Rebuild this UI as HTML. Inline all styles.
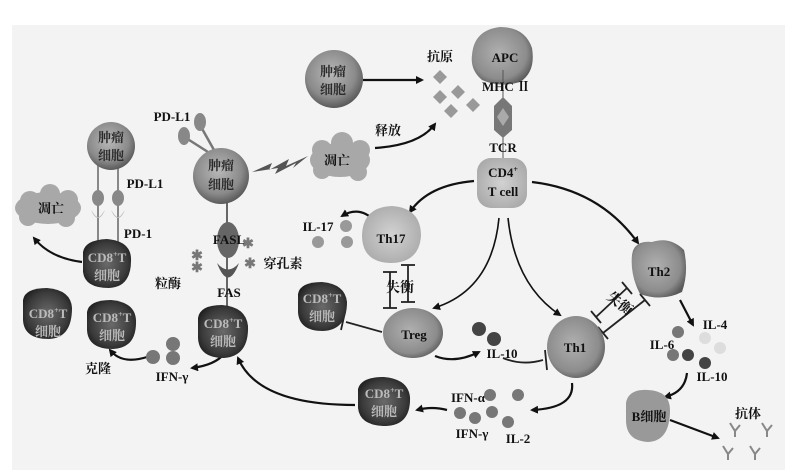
<!DOCTYPE html>
<html><head><meta charset="utf-8"><style>
html,body{margin:0;padding:0;background:#fff}
svg{display:block}
text{font-family:"Liberation Serif","Noto Serif CJK SC",serif;font-weight:bold;text-anchor:middle;fill:#111;font-size:13px}
.c{fill:#bbb}
.d{fill:#2a2a2a}
</style></head><body>
<svg width="800" height="473" viewBox="0 0 800 473" xmlns="http://www.w3.org/2000/svg">
<defs>
<radialGradient id="tum" cx="45%" cy="40%" r="60%"><stop offset="0" stop-color="#b8b8b8"/><stop offset="0.7" stop-color="#8a8a8a"/><stop offset="1" stop-color="#5a5a5a"/></radialGradient>
<radialGradient id="cd8" cx="50%" cy="50%" r="60%"><stop offset="0" stop-color="#6a6a6a"/><stop offset="0.7" stop-color="#3a3a3a"/><stop offset="1" stop-color="#1a1a1a"/></radialGradient>
<radialGradient id="lt" cx="50%" cy="50%" r="60%"><stop offset="0" stop-color="#d2d2d2"/><stop offset="1" stop-color="#a8a8a8"/></radialGradient>
<radialGradient id="th" cx="45%" cy="45%" r="60%"><stop offset="0" stop-color="#b0b0b0"/><stop offset="0.75" stop-color="#8c8c8c"/><stop offset="1" stop-color="#5a5a5a"/></radialGradient>
<marker id="a" markerWidth="8" markerHeight="8" refX="6" refY="4" orient="auto" markerUnits="userSpaceOnUse"><path d="M0,0 L8,4 L0,8 Z" fill="#111"/></marker>
</defs>
<rect x="0" y="0" width="800" height="473" fill="#fff"/>
<rect x="12" y="25" width="773" height="445" fill="#f3f3f3"/>

<g stroke="#111" stroke-width="2.2" fill="none" marker-end="url(#a)">
<path d="M363,80 L422,80"/>
<path d="M375,148 Q420,145 435,124"/>
<path d="M474,181 Q428,185 410,212"/>
<path d="M532,182 Q600,190 638,243"/>
<path d="M82,262 Q50,258 34,238"/>
<path d="M376,222 Q360,205 342,216"/>
<path d="M224,354 Q215,365 192,368"/>
<path d="M147,357 Q122,365 110,350"/>
<path d="M355,405 Q258,405 238,358"/>
<path d="M435,356 Q455,364 479,352"/>
<path d="M572,383 Q575,408 532,410"/>
<path d="M447,410 Q432,406 417,410"/>
<path d="M680,300 L693,325"/>
<path d="M687,373 Q685,392 665,397"/>
<path d="M670,420 L718,438"/>
</g>
<g stroke="#111" stroke-width="1.6" fill="none" marker-end="url(#a)">
<path d="M499,218 Q492,290 434,308"/>
<path d="M508,218 Q515,285 560,315"/>
</g>
<!-- inhibition lines -->
<g stroke="#222" stroke-width="1.8" fill="none">
<path d="M382,332 L346,322"/><path d="M345,312 L341,330"/>
<path d="M503,358 Q522,366 543,360"/><path d="M545,350 L547,370"/>
<path d="M390,272 L390,308"/><path d="M383,272 L397,272"/><path d="M383,308 L397,308"/>
<path d="M408,265 L408,302"/><path d="M401,265 L415,265"/><path d="M401,302 L415,302"/>
<path d="M596,317 L627,288"/><path d="M591,311 L601,323"/><path d="M622,282 L632,294"/>
<path d="M603,333 L645,300"/><path d="M598,327 L608,339"/><path d="M640,294 L650,306"/>
</g>

<!-- top tumor -->
<circle cx="334" cy="79" r="29" fill="url(#tum)"/>
<text x="333" y="76" class="d">肿瘤</text>
<text x="333" y="94" class="d">细胞</text>
<!-- antigens -->
<text x="440" y="61">抗原</text>
<g fill="#999">
<path d="M440,70 l7,7 l-7,7 l-7,-7z"/><path d="M440,90 l7,7 l-7,7 l-7,-7z"/><path d="M458,85 l7,7 l-7,7 l-7,-7z"/><path d="M473,98 l7,7 l-7,7 l-7,-7z"/><path d="M451,104 l7,7 l-7,7 l-7,-7z"/>
</g>
<!-- APC -->
<path d="M472,55 Q474,30 500,27 Q525,27 532,48 Q536,72 520,82 Q500,88 482,80 Q470,70 472,55z" fill="url(#th)"/>
<text x="505" y="62">APC</text>
<line x1="503" y1="70" x2="503" y2="160" stroke="#555" stroke-width="1"/>
<path d="M503,97 L512,106 L512,130 L503,138 L494,130 L494,106Z" fill="#777"/>
<path d="M503,108 L509,117 L503,126 L497,117Z" fill="#aaa"/>
<text x="506" y="91">MHC Ⅱ</text>
<text x="503" y="152">TCR</text>
<rect x="477" y="158" width="50" height="50" rx="14" fill="url(#lt)"/>
<text x="503" y="177">CD4<tspan font-size="8" dy="-5">+</tspan></text>
<text x="503" y="196">T cell</text>
<text x="388" y="135">释放</text>
<!-- cloud top -->
<g fill="#a8a8a8"><ellipse cx="340" cy="160" rx="30" ry="17"/><circle cx="322" cy="150" r="10"/><circle cx="342" cy="143" r="11"/><circle cx="360" cy="150" r="10"/><circle cx="322" cy="170" r="9"/><circle cx="358" cy="172" r="9"/></g>
<text x="337" y="165">凋亡</text>
<path d="M252,172 L272,163 L269,170 L289,159 L286,166 L308,156 L293,168 L296,163 L275,174 L278,168Z" fill="#555"/>
<!-- middle tumor -->
<line x1="208" y1="152" x2="186" y2="138" stroke="#777" stroke-width="2.5"/>
<line x1="214" y1="150" x2="200" y2="125" stroke="#777" stroke-width="2.5"/>
<ellipse cx="184" cy="136" rx="6" ry="9" fill="#888"/><ellipse cx="200" cy="122" rx="6" ry="9" fill="#888"/>
<text x="172" y="121">PD-L1</text>
<line x1="227" y1="200" x2="227" y2="310" stroke="#666" stroke-width="2"/>
<circle cx="221" cy="176" r="28" fill="url(#tum)"/>
<text x="221" y="170" class="d">肿瘤</text>
<text x="221" y="189" class="d">细胞</text>
<ellipse cx="228" cy="240" rx="11" ry="18" fill="#666"/>
<text x="229" y="244">FASL</text>
<path d="M217,263 Q228,292 239,263 Q228,276 217,263Z" fill="#555"/>
<text x="229" y="297">FAS</text>
<g style="font-size:14px"><text x="248" y="248" style="fill:#777;font-size:14px">✱</text><text x="197" y="260" style="fill:#777;font-size:14px">✱</text><text x="197" y="272" style="fill:#777;font-size:14px">✱</text><text x="250" y="268" style="fill:#777;font-size:14px">✱</text></g>
<text x="283" y="268">穿孔素</text>
<text x="168" y="288">粒酶</text>
<!-- left tumor -->
<line x1="98" y1="160" x2="98" y2="242" stroke="#888" stroke-width="2"/>
<line x1="118" y1="160" x2="118" y2="242" stroke="#888" stroke-width="2"/>
<circle cx="111" cy="146" r="24" fill="url(#tum)"/>
<text x="111" y="142" class="d">肿瘤</text>
<text x="111" y="160" class="d">细胞</text>
<ellipse cx="98" cy="198" rx="6" ry="8" fill="#888"/><ellipse cx="118" cy="198" rx="6" ry="8" fill="#888"/>
<path d="M91,210 Q98,226 105,210 L102,214 Q98,220 94,214Z" fill="#bbb"/>
<path d="M111,210 Q118,226 125,210 L122,214 Q118,220 114,214Z" fill="#bbb"/>
<text x="145" y="188">PD-L1</text>
<text x="138" y="238">PD-1</text>
<g fill="#a8a8a8"><ellipse cx="48" cy="208" rx="33" ry="16"/><circle cx="30" cy="201" r="10"/><circle cx="50" cy="194" r="10"/><circle cx="68" cy="200" r="10"/><circle cx="28" cy="217" r="9"/><circle cx="66" cy="218" r="9"/></g>
<text x="51" y="213">凋亡</text>

<!-- CD8 cells -->
<g fill="url(#cd8)">
<path d="M83,252 Q85,240 107,239 Q130,241 131,258 Q132,287 109,288 Q85,288 83,272Z"/>
<path d="M23,300 Q25,288 47,288 Q71,290 72,308 Q72,338 49,339 Q24,339 23,320Z"/>
<path d="M87,312 Q89,300 111,300 Q135,302 136,320 Q137,348 113,349 Q88,349 87,330Z"/>
<path d="M198,318 Q200,305 222,305 Q246,307 248,326 Q249,356 224,358 Q199,358 198,338Z"/>
<path d="M298,294 Q300,282 322,282 Q345,284 347,302 Q347,330 323,331 Q299,331 298,312Z"/>
<path d="M358,389 Q361,377 384,377 Q408,379 410,397 Q411,425 386,426 Q360,426 358,408Z"/>
</g>
<text x="107" y="262" class="c">CD8<tspan font-size="8" dy="-5">+</tspan><tspan dy="5">T</tspan></text><text x="107" y="280" class="c">细胞</text>
<text x="48" y="318" class="c">CD8<tspan font-size="8" dy="-5">+</tspan><tspan dy="5">T</tspan></text><text x="48" y="336" class="c">细胞</text>
<text x="112" y="322" class="c">CD8<tspan font-size="8" dy="-5">+</tspan><tspan dy="5">T</tspan></text><text x="112" y="340" class="c">细胞</text>
<text x="223" y="328" class="c">CD8<tspan font-size="8" dy="-5">+</tspan><tspan dy="5">T</tspan></text><text x="223" y="346" class="c">细胞</text>
<text x="322" y="303" class="c">CD8<tspan font-size="8" dy="-5">+</tspan><tspan dy="5">T</tspan></text><text x="322" y="321" class="c">细胞</text>
<text x="384" y="398" class="c">CD8<tspan font-size="8" dy="-5">+</tspan><tspan dy="5">T</tspan></text><text x="384" y="416" class="c">细胞</text>
<text x="98" y="373">克隆</text>
<text x="172" y="381">IFN-γ</text>
<circle cx="153" cy="357" r="7" fill="#777"/><circle cx="173" cy="344" r="7" fill="#777"/><circle cx="173" cy="358" r="7" fill="#777"/>

<!-- Th17 -->
<path d="M362,235 Q363,207 392,206 Q421,208 421,236 Q419,263 390,263 Q362,262 362,235z" fill="url(#lt)"/>
<text x="391" y="243">Th17</text>
<text x="318" y="231">IL-17</text>
<circle cx="346" cy="226" r="6" fill="#999"/><circle cx="318" cy="242" r="6" fill="#999"/><circle cx="347" cy="242" r="6" fill="#999"/>
<text x="400" y="292" style="font-size:14px">失衡</text>
<!-- Treg -->
<ellipse cx="413" cy="333" rx="30" ry="25" fill="url(#th)"/>
<text x="414" y="339">Treg</text>
<circle cx="479" cy="329" r="7" fill="#444"/><circle cx="494" cy="339" r="7" fill="#444"/>
<text x="502" y="358">IL-10</text>
<!-- Th1 -->
<ellipse cx="576" cy="347" rx="29" ry="31" fill="url(#th)"/>
<text x="575" y="352">Th1</text>
<text x="617" y="307" transform="rotate(38 617 307)" style="font-size:14px">失衡</text>
<!-- Th2 -->
<path d="M632,255 Q634,240 652,242 Q670,236 684,250 Q689,272 682,292 Q662,302 640,294 Q630,275 632,255z" fill="url(#th)"/>
<text x="659" y="276">Th2</text>
<text x="715" y="329">IL-4</text>
<text x="662" y="349">IL-6</text>
<text x="712" y="381">IL-10</text>
<circle cx="678" cy="332" r="6" fill="#777"/><circle cx="705" cy="338" r="6" fill="#ddd"/><circle cx="720" cy="348" r="6" fill="#ddd"/>
<circle cx="673" cy="355" r="6" fill="#777"/><circle cx="688" cy="355" r="6" fill="#444"/><circle cx="705" cy="363" r="6" fill="#444"/>
<!-- B cell -->
<path d="M626,403 Q628,389 648,390 Q670,391 670,410 Q670,441 648,442 Q626,441 626,420z" fill="#999"/>
<text x="649" y="421">B细胞</text>
<text x="748" y="418">抗体</text>
<g stroke="#888" stroke-width="2" fill="none">
<path d="M730,423 l5,8 l5,-6 M735,431 l0,6"/><path d="M762,423 l5,8 l5,-6 M767,431 l0,6"/>
<path d="M723,446 l5,8 l5,-6 M728,454 l0,6"/><path d="M750,446 l5,8 l5,-6 M755,454 l0,6"/>
</g>
<!-- bottom cytokines -->
<text x="468" y="402">IFN-α</text>
<text x="472" y="438">IFN-γ</text>
<text x="518" y="443">IL-2</text>
<circle cx="490" cy="395" r="6" fill="#777"/><circle cx="518" cy="395" r="6" fill="#777"/>
<circle cx="460" cy="413" r="6" fill="#777"/><circle cx="475" cy="418" r="6" fill="#777"/><circle cx="492" cy="412" r="6" fill="#777"/><circle cx="508" cy="422" r="6" fill="#777"/>
</svg>
</body></html>
